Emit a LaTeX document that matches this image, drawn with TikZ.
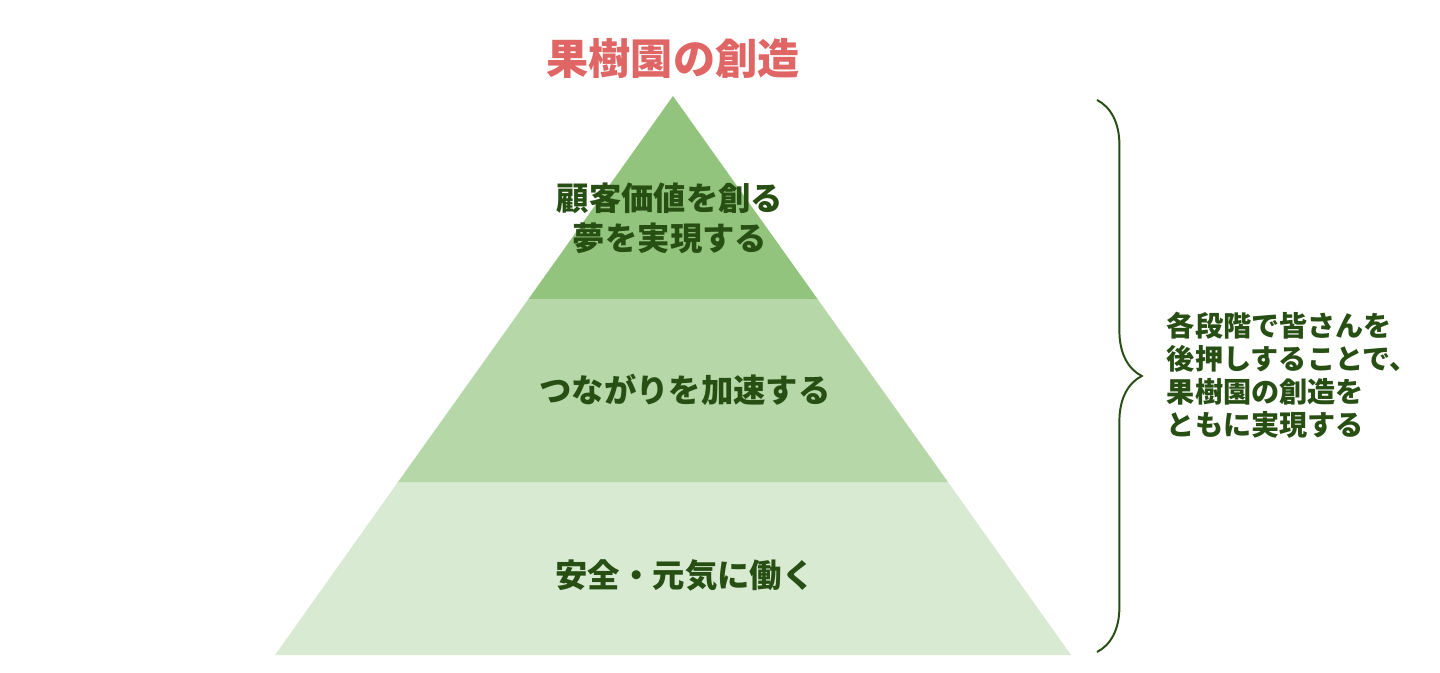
\documentclass[tikz,border=0pt]{standalone}
\usepackage{fontspec}
\setmainfont{Noto Sans CJK JP}
\usetikzlibrary{decorations.pathreplacing}
\definecolor{tierTop}{RGB}{147,196,125}
\definecolor{tierMid}{RGB}{182,215,168}
\definecolor{tierLow}{RGB}{217,234,211}
\definecolor{textGreen}{RGB}{39,78,19}
\definecolor{titleRed}{RGB}{224,102,102}
\tikzset{
  titulo/.style={text=titleRed, font=\bfseries\fontsize{30}{36}\selectfont},
  nivel/.style={text=textGreen, align=center, font=\bfseries\fontsize{23}{28.5}\selectfont},
  nota/.style={text=textGreen, align=left, anchor=west, font=\bfseries\fontsize{20}{23.5}\selectfont},
  llave/.style={draw=textGreen, line width=1.4pt, decorate, decoration={brace, amplitude=1.12cm}}
}
\begin{document}
\begin{tikzpicture}[x=0.025cm, y=0.025cm]
  \useasboundingbox (0,0) rectangle (1440,672);

  % Niveles de la piramide
  \fill[tierLow] (275,17) -- (1071,17) -- (948,190) -- (398,190) -- cycle;
  \fill[tierMid] (398,190) -- (948,190) -- (817.5,373) -- (528.5,373) -- cycle;
  \fill[tierTop] (528.5,373) -- (817.5,373) -- (673,576) -- cycle;

  % Titulo
  \node[titulo] (titulo) at (673,614) {果樹園の創造};

  % Textos de los niveles
  \node[nivel] (nivel_sup) at (670,454) {顧客価値を創る\\夢を実現する};
  \node[nivel] (nivel_med) at (685,282) {つながりを加速する};
  \node[nivel] (nivel_inf) at (685,97) {安全・元気に働く};

  % Llave y nota
  \coordinate (llave_ini) at (1097,572);
  \coordinate (llave_fin) at (1097,20);
  \draw[llave] (llave_ini) -- (llave_fin);
  \node[nota] (nota) at (1162,297) {各段階で皆さんを\\後押しすることで、\\果樹園の創造を\\ともに実現する};
\end{tikzpicture}
\end{document}
